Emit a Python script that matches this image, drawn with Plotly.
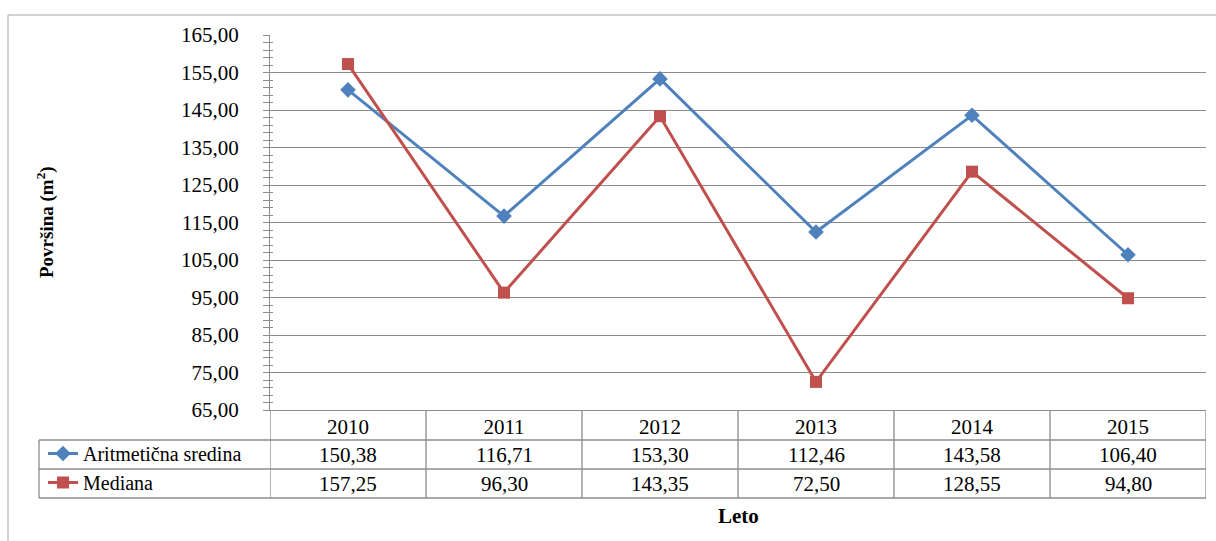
import plotly.graph_objects as go

# Yearly floor-area statistics
years = ["2010", "2011", "2012", "2013", "2014", "2015"]
mean_values = [150.38, 116.71, 153.30, 112.46, 143.58, 106.40]
median_values = [157.25, 96.30, 143.35, 72.50, 128.55, 94.80]
series_names = ["Aritmetična sredina", "Mediana"]

BLUE = "#4F81BD"
RED = "#C0504D"
GRID = "#8c8c8c"
FONT = "Liberation Serif"
FS = 21

W, H = 1216, 541
L, R, T, B = 270, 10, 35, 131
plot_h = H - T - B


def py(pixel_y):
    """Convert a pixel row to paper y."""
    return (H - B - pixel_y) / plot_h


def px(pixel_x):
    """Convert a pixel column to paper x."""
    return (pixel_x - L) / (W - L - R)


def fmt(v):
    return f"{v:.2f}".replace(".", ",")


xs = list(range(len(years)))

fig = go.Figure()
fig.add_trace(go.Scatter(
    x=xs, y=mean_values, name=series_names[0], mode="lines+markers",
    line=dict(color=BLUE, width=3),
    marker=dict(symbol="diamond", size=12, color=BLUE),
    legendgroup="a",
))
fig.add_trace(go.Scatter(
    x=xs, y=median_values, name=series_names[1], mode="lines+markers",
    line=dict(color=RED, width=3),
    marker=dict(symbol="square", size=12, color=RED),
    legendgroup="b",
))

# rows of the data table below the axis
row_tops = [410, 440, 469, 498]
shapes = []
# vertical separators of the table columns
for i in range(len(years) + 1):
    shapes.append(dict(type="line", xref="x", yref="paper",
                       x0=i - 0.5, x1=i - 0.5, y0=py(410), y1=py(498),
                       line=dict(color=GRID, width=1.3)))
# left edge of the series-name column
shapes.append(dict(type="line", xref="paper", yref="paper",
                   x0=px(39), x1=px(39), y0=py(440), y1=py(498),
                   line=dict(color=GRID, width=1.3)))
# horizontal row separators
for yy in row_tops[1:]:
    shapes.append(dict(type="line", xref="paper", yref="paper",
                       x0=px(39), x1=1, y0=py(yy), y1=py(yy),
                       line=dict(color=GRID, width=1.3)))
# chart frame
shapes.append(dict(type="rect", xref="paper", yref="paper",
                   x0=px(8), x1=px(1230), y0=py(15), y1=py(580),
                   line=dict(color="#a6a6a6", width=1)))

annotations = []
for row, vals in enumerate([mean_values, median_values]):
    yc = (row_tops[row + 1] + row_tops[row + 2]) / 2
    for i, v in enumerate(vals):
        annotations.append(dict(x=i, y=py(yc), xref="x", yref="paper",
                                text=fmt(v), showarrow=False,
                                font=dict(family=FONT, size=FS, color="black"),
                                xanchor="center", yanchor="middle"))

annotations.append(dict(x=px(45), y=py(222), xref="paper", yref="paper",
                        text="<b>Površina (m<sup>2</sup>)</b>", textangle=-90,
                        showarrow=False,
                        font=dict(family=FONT, size=19, color="black"),
                        xanchor="center", yanchor="middle"))
annotations.append(dict(x=0.5, y=py(516), xref="paper", yref="paper",
                        text="<b>Leto</b>", showarrow=False,
                        font=dict(family=FONT, size=21, color="black"),
                        xanchor="center", yanchor="middle"))

fig.update_layout(
    width=W, height=H,
    margin=dict(l=L, r=R, t=T, b=B),
    paper_bgcolor="white", plot_bgcolor="white",
    separators=", ",
    font=dict(family=FONT, size=FS, color="black"),
    showlegend=True,
    legend=dict(x=px(43), y=py(434), xref="paper", yref="paper",
                xanchor="left", yanchor="top",
                font=dict(family=FONT, size=20, color="black"),
                tracegroupgap=1, bgcolor="rgba(0,0,0,0)",
                traceorder="normal", itemwidth=30),
    xaxis=dict(range=[-0.5, len(years) - 0.5], tickvals=xs, ticktext=years,
               showgrid=False, zeroline=False, showline=True,
               linecolor=GRID, linewidth=1.3, ticks="",
               tickfont=dict(family=FONT, size=FS, color="black"),
               ticklabelstandoff=-2, fixedrange=True),
    yaxis=dict(range=[65, 165], dtick=10, tick0=65, tickformat=".2f",
               showgrid=True, gridcolor=GRID, gridwidth=1.2,
               zeroline=False, showline=True, linecolor=GRID, linewidth=1.3,
               ticks="outside", ticklen=6, tickcolor=GRID,
               ticklabelstandoff=20,
               minor=dict(dtick=2, tick0=65, ticks="outside", ticklen=6,
                          tickcolor=GRID, showgrid=False),
               tickfont=dict(family=FONT, size=FS, color="black")),
    yaxis2=dict(range=[65, 165], overlaying="y", anchor="x", side="left",
                showgrid=False, zeroline=False, showticklabels=False,
                ticks="inside", ticklen=3, tickcolor=GRID, dtick=10, tick0=65,
                minor=dict(dtick=2, tick0=65, ticks="inside", ticklen=3,
                           tickcolor=GRID)),
    shapes=shapes,
    annotations=annotations,
)
# empty trace that makes the overlay axis render its inner tick marks
fig.add_trace(go.Scatter(x=[None], y=[None], yaxis="y2", showlegend=False,
                         hoverinfo="skip"))

fig.write_html("out.html")
